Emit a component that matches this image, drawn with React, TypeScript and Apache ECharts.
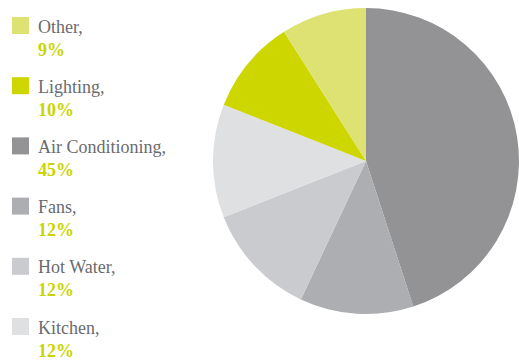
import React, { useEffect, useRef } from "react";
import * as echarts from "echarts";

// Pie data in clockwise order starting at 12 o'clock
const categories = ["Air Conditioning", "Fans", "Hot Water", "Kitchen", "Lighting", "Other"];
const values = [45, 12, 12, 12, 10, 9];
const colors = ["#939395", "#adaeb1", "#cacbce", "#dfe0e2", "#ced600", "#dee273"];
// Legend order (top to bottom)
const legendOrder = ["Other", "Lighting", "Air Conditioning", "Fans", "Hot Water", "Kitchen"];

export default function App() {
  const ref = useRef<HTMLDivElement>(null);
  useEffect(() => {
    document.body.style.margin = "0";
    if (!ref.current) return;
    const chart = echarts.init(ref.current, undefined, { renderer: "svg" });
    const family = "'Liberation Serif', 'Times New Roman', serif";
    const legendGraphics: any[] = [];
    legendOrder.forEach((name, i) => {
      const idx = categories.indexOf(name);
      const y = 17 + i * 60.2;
      legendGraphics.push({
        type: "rect",
        shape: { x: 12, y, width: 17, height: 17 },
        style: { fill: colors[idx] },
      });
      legendGraphics.push({
        type: "text",
        x: 38,
        y: y + 9.5,
        style: {
          text: name + ",",
          fill: "#6a6b6e",
          fontFamily: family,
          fontSize: 18,
          verticalAlign: "middle",
        },
      });
      legendGraphics.push({
        type: "text",
        x: 38,
        y: y + 32.5,
        style: {
          text: values[idx] + "%",
          fill: "#c9d400",
          fontFamily: family,
          fontSize: 18,
          fontWeight: "bold",
          verticalAlign: "middle",
        },
      });
    });
    chart.setOption({
      animation: false,
      graphic: legendGraphics,
      series: [
        {
          type: "pie",
          center: [366, 161],
          radius: 153,
          startAngle: 90,
          clockwise: true,
          label: { show: false },
          labelLine: { show: false },
          emphasis: { disabled: true },
          itemStyle: { borderWidth: 0 },
          data: categories.map((c, i) => ({ name: c, value: values[i], itemStyle: { color: colors[i] } })),
        },
      ],
    });
    return () => chart.dispose();
  }, []);
  return <div ref={ref} style={{ width: 519, height: 360 }} />;
}
